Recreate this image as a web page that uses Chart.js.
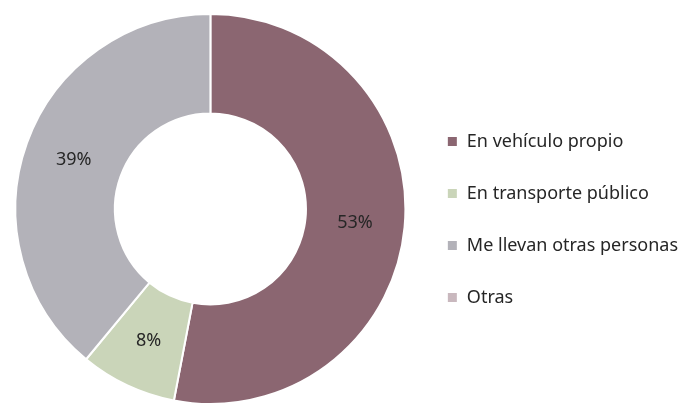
<!DOCTYPE html>
<html lang="es">

<head>
    <meta charset="UTF-8">
    <title>Medio de transporte</title>
    <style>
        body {
            margin: 0;
            background: #ffffff;
        }
    </style>
</head>

<body>
    <canvas id="transportChart" width="695" height="405"></canvas>

    <script src="https://cdn.jsdelivr.net/npm/chart.js"></script>
    <script>
        const categories = ['En vehículo propio', 'En transporte público', 'Me llevan otras personas', 'Otras'];
        const percentages = [53, 8, 39, 0];
        const sliceColors = ['#8b6671', '#cad5b9', '#b3b2b9', '#c9b8be'];

        // percentage text drawn in the middle of each ring segment
        const sliceLabels = {
            id: 'sliceLabels',
            afterDatasetsDraw(chart) {
                const ctx = chart.ctx;
                const meta = chart.getDatasetMeta(0);
                ctx.save();
                ctx.font = '18px "Noto Sans", sans-serif';
                ctx.fillStyle = '#262626';
                ctx.textAlign = 'center';
                ctx.textBaseline = 'middle';
                meta.data.forEach((arc, i) => {
                    const v = percentages[i];
                    if (!v) return;
                    const pos = arc.tooltipPosition();
                    ctx.fillText(v + '%', pos.x, pos.y);
                });
                ctx.restore();
            }
        };

        const ctx = document.getElementById('transportChart').getContext('2d');
        new Chart(ctx, {
            type: 'doughnut',
            data: {
                labels: categories,
                datasets: [{
                    data: percentages,
                    backgroundColor: sliceColors,
                    borderColor: '#ffffff',
                    borderWidth: 2
                }]
            },
            options: {
                responsive: false,
                animation: false,
                cutout: '49%',
                layout: {
                    padding: { left: 8, right: 7, top: 13, bottom: 0 }
                },
                plugins: {
                    tooltip: { enabled: false },
                    legend: {
                        position: 'right',
                        title: {
                            display: true,
                            text: '',
                            font: { size: 1 },
                            padding: { top: 10, bottom: 10 }
                        },
                        labels: {
                            boxWidth: 11,
                            boxHeight: 11,
                            padding: 34,
                            color: '#262626',
                            font: { family: '"Noto Sans", sans-serif', size: 18 }
                        }
                    }
                }
            },
            plugins: [sliceLabels]
        });
    </script>
</body>

</html>
